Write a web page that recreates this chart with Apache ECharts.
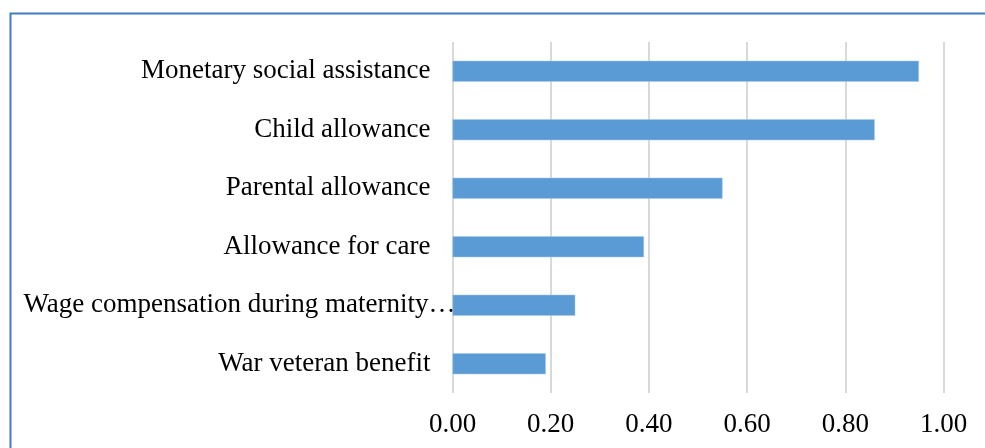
<!DOCTYPE html>
<html>
<head>
<meta charset="utf-8">
<script src="https://cdn.jsdelivr.net/npm/echarts@6/dist/echarts.min.js"></script>
<style>
html,body{margin:0;padding:0;background:#fff;}
#chart{width:985px;height:448px;}
</style>
</head>
<body>
<div id="chart"></div>
<script>
var categories = [
  "Monetary social assistance",
  "Child allowance",
  "Parental allowance",
  "Allowance for care",
  "Wage compensation during maternity leave",
  "War veteran benefit"
];
var values = [0.95, 0.86, 0.55, 0.39, 0.25, 0.19];
var tickLabels = ["0.00", "0.20", "0.40", "0.60", "0.80", "1.00"];

var chart = echarts.init(document.getElementById('chart'), null, {renderer: 'canvas'});
var font = '"Liberation Serif", "Times New Roman", serif';
chart.setOption({
  animation: false,
  backgroundColor: '#ffffff',
  graphic: [{
    type: 'rect',
    shape: {x: 10.5, y: 13.5, width: 1000, height: 1000},
    style: {fill: 'none', stroke: '#3f7cc0', lineWidth: 2},
    silent: true,
    z: 10
  }],
  grid: {left: 452.5, right: 41.5, top: 42, bottom: 55, containLabel: false},
  xAxis: {
    type: 'value',
    min: 0, max: 1, interval: 0.2,
    axisLine: {show: false},
    axisTick: {show: false},
    splitLine: {show: true, lineStyle: {color: '#d9d9d9', width: 2}},
    axisLabel: {
      margin: 18,
      color: '#000',
      fontFamily: font,
      fontSize: 27,
      formatter: function (v) { return tickLabels[Math.round(v / 0.2)]; }
    }
  },
  yAxis: {
    type: 'category',
    inverse: true,
    data: categories,
    axisLine: {show: false},
    axisTick: {show: false},
    axisLabel: {
      margin: -3,
      color: '#000',
      fontFamily: font,
      fontSize: 27,
      width: 438,
      overflow: 'truncate',
      ellipsis: '…',
      formatter: function (v) {
        var t = v.length > 30 ? v : '{t|' + v + '}{s|}';
        return t;
      },
      rich: {
        t: {fontFamily: font, fontSize: 27, color: '#000'},
        s: {width: 25, height: 10}
      }
    }
  },
  series: [{
    type: 'bar',
    data: values,
    barWidth: '36%',
    itemStyle: {color: '#5b9bd5', borderColor: '#a9cbea', borderWidth: 0.5}
  }]
});
</script>
</body>
</html>
